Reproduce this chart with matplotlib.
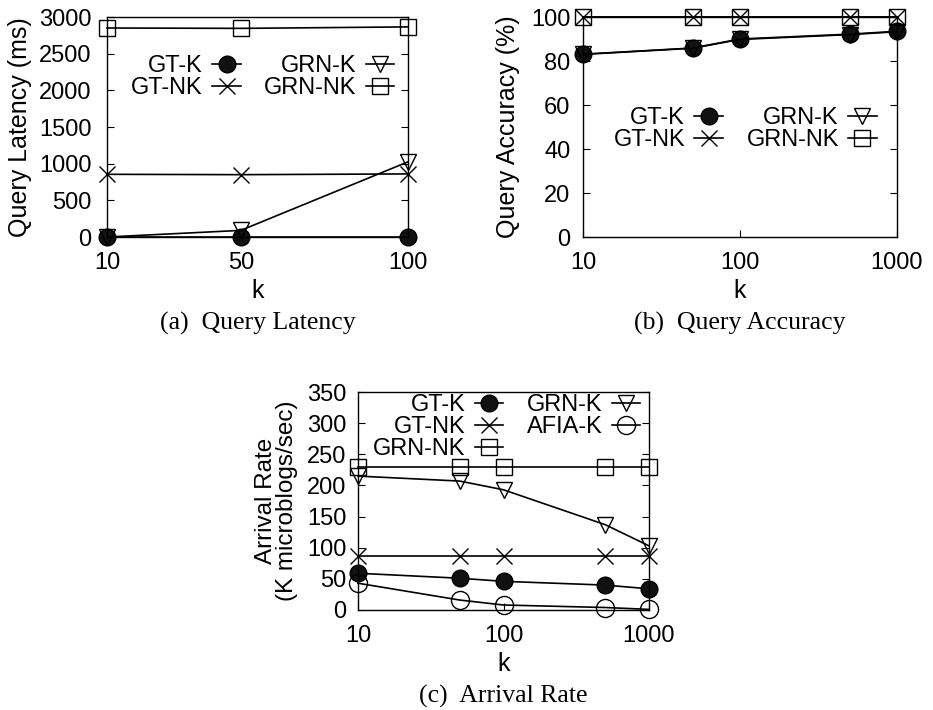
import matplotlib
matplotlib.use("Agg")
import matplotlib.pyplot as plt
from matplotlib.ticker import FixedLocator, FixedFormatter, NullLocator

plt.rcParams['font.family'] = ['Liberation Sans', 'DejaVu Sans']
plt.rcParams['font.size'] = 17

# (a) Query Latency
k_lat = [10, 50, 100]
lat_gt_k = [0, 0, 0]
lat_gt_nk = [855, 850, 860]
lat_grn_k = [0, 90, 1025]
lat_grn_nk = [2850, 2845, 2865]

# (b) Query Accuracy
k_acc = [10, 50, 100, 500, 1000]
acc_gt_k = [83.1, 85.9, 90.0, 92.2, 93.5]
acc_gt_nk = [100, 100, 100, 100, 100]
acc_grn_k = [83.0, 85.8, 89.8, 92.0, 93.3]
acc_grn_nk = [100, 100, 100, 100, 100]

# (c) Arrival Rate
k_arr = [10, 50, 100, 500, 1000]
arr_gt_k = [59, 51, 46, 40, 34]
arr_gt_nk = [86, 86, 86, 86, 86]
arr_grn_k = [215, 207, 193, 137, 103]
arr_grn_nk = [229, 229, 229, 229, 229]
arr_afia_k = [43, 16, 8, 4, 1]

STYLE = {
    'GT-K': dict(marker='o', color='black', markerfacecolor='#111111'),
    'GT-NK': dict(marker='x', color='black', markeredgewidth=1.0),
    'GRN-K': dict(marker='v', color='black', fillstyle='none'),
    'GRN-NK': dict(marker='s', color='black', fillstyle='none'),
    'AFIA-K': dict(marker='o', color='black', fillstyle='none'),
}
MS = {'GT-K': 12, 'GT-NK': 12, 'GRN-K': 12, 'GRN-NK': 12, 'AFIA-K': 13}


def draw_series(ax, x, series):
    for name, ys in series:
        ax.plot(x, ys, lw=1.2, ms=MS[name], label=name, clip_on=False, **STYLE[name])


def style_axes(ax):
    for s in ax.spines.values():
        s.set_linewidth(1.0)
    ax.tick_params(direction='in', length=5, width=0.8, right=True, top=False)
    ax.tick_params(axis='x', pad=10.5)
    ax.tick_params(axis='y', pad=11)


def add_legend(ax, anchor):
    ax.legend(ncol=2, loc='upper right', bbox_to_anchor=anchor, frameon=False,
              markerfirst=False, handlelength=1.2, handletextpad=0.4,
              columnspacing=1.0, labelspacing=0.0, borderpad=0, borderaxespad=0,
              fontsize=17)


def caption(ax, txt):
    ax.text(0.5, -0.395, txt, transform=ax.transAxes, ha='center', va='center',
            fontsize=18.5, family=['Liberation Serif', 'DejaVu Serif'])


fig = plt.figure(figsize=(9.33, 7.10), dpi=100)
W, H = 933.0, 710.0

# panel a
ax1 = fig.add_axes([107 / W, (H - 237) / H, 301 / W, 220 / H])
draw_series(ax1, k_lat, [('GT-K', lat_gt_k), ('GT-NK', lat_gt_nk),
                         ('GRN-K', lat_grn_k), ('GRN-NK', lat_grn_nk)])
ax1.set_xlim(10, 100)
ax1.set_ylim(0, 3000)
ax1.set_xticks(k_lat)
ax1.set_yticks(range(0, 3001, 500))
ax1.set_xlabel('k', labelpad=4, fontsize=18)
ax1.set_ylabel('Query Latency (ms)', labelpad=5, fontsize=18)
style_axes(ax1)
add_legend(ax1, (0.955, 0.825))
caption(ax1, '(a)  Query Latency')

# panel b
ax2 = fig.add_axes([583 / W, (H - 237) / H, 314 / W, 220 / H])
draw_series(ax2, k_acc, [('GT-K', acc_gt_k), ('GT-NK', acc_gt_nk),
                         ('GRN-K', acc_grn_k), ('GRN-NK', acc_grn_nk)])
ax2.set_xscale('log')
ax2.set_xlim(10, 1000)
ax2.set_ylim(0, 100)
ax2.xaxis.set_major_locator(FixedLocator([10, 100, 1000]))
ax2.xaxis.set_major_formatter(FixedFormatter(['10', '100', '1000']))
ax2.xaxis.set_minor_locator(NullLocator())
ax2.set_yticks(range(0, 101, 20))
ax2.set_xlabel('k', labelpad=4, fontsize=18)
ax2.set_ylabel('Query Accuracy (%)', labelpad=8, fontsize=18)
style_axes(ax2)
ax2.tick_params(axis='y', pad=9)
add_legend(ax2, (0.935, 0.59))
caption(ax2, '(b)  Query Accuracy')

# panel c
ax3 = fig.add_axes([358 / W, (H - 610) / H, 291 / W, 218 / H])
draw_series(ax3, k_arr, [('GT-K', arr_gt_k), ('GT-NK', arr_gt_nk),
                         ('GRN-NK', arr_grn_nk), ('GRN-K', arr_grn_k),
                         ('AFIA-K', arr_afia_k)])
ax3.set_xscale('log')
ax3.set_xlim(10, 1000)
ax3.set_ylim(0, 350)
ax3.xaxis.set_major_locator(FixedLocator([10, 100, 1000]))
ax3.xaxis.set_major_formatter(FixedFormatter(['10', '100', '1000']))
ax3.xaxis.set_minor_locator(NullLocator())
ax3.set_yticks(range(0, 351, 50))
ax3.set_xlabel('k', labelpad=4, fontsize=18)
ax3.set_ylabel('Arrival Rate\n(K microblogs/sec)', labelpad=6, linespacing=0.95,
               fontsize=17.5)
style_axes(ax3)
ax3.tick_params(axis='y', pad=8.5)
add_legend(ax3, (0.97, 0.99))
caption(ax3, '(c)  Arrival Rate')

fig.savefig('out.png', dpi=100)
